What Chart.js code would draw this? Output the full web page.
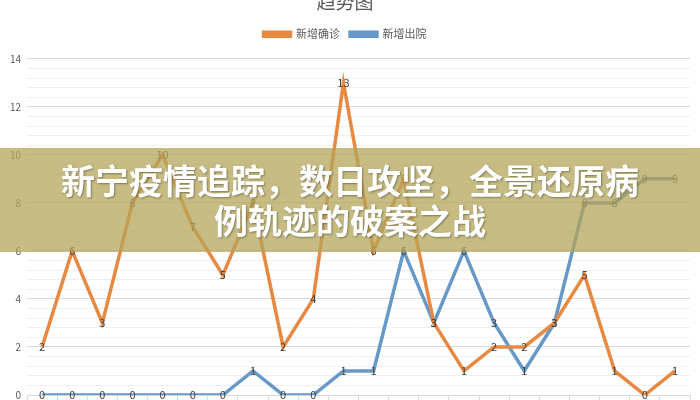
<!DOCTYPE html>
<html>
<head>
<meta charset="utf-8">
<script src="https://cdn.jsdelivr.net/npm/chart.js@4"></script>
<style>
  body { margin: 0; width: 700px; height: 400px; overflow: hidden; background: #fff; position: relative; }
  #wrap { position: absolute; left: 0; top: -20px; width: 700px; height: 440px; }
  #banner {
    position: absolute; left: 0; top: 148px; width: 700px; height: 104px;
    background: rgba(180, 165, 90, 0.75);
    color: #fff; font-family: "Noto Sans CJK SC", sans-serif; font-weight: bold;
    font-size: 34px; line-height: 40px; text-align: center;
    box-sizing: border-box; padding-top: 12px;
    text-shadow: 1px 1px 2px rgba(0,0,0,0.35);
  }
</style>
</head>
<body>
<div id="wrap"><canvas id="trend"></canvas></div>
<div id="banner">新宁疫情追踪，数日攻坚，全景还原病<br>例轨迹的破案之战</div>
<script>
const days = ['1', '2', '3', '4', '5', '6', '7', '8', '9', '10', '11',
              '12', '13', '14', '15', '16', '17', '18', '19', '20', '21', '22'];
const newConfirmed = [2, 6, 3, 8, 10, 7, 5, 8, 2, 4, 13, 6, 9, 3, 1, 2, 2, 3, 5, 1, 0, 1];
const newDischarged = [0, 0, 0, 0, 0, 0, 0, 1, 0, 0, 1, 1, 6, 3, 6, 3, 1, 3, 8, 8, 9, 9];

const fontFamily = '"Noto Sans CJK SC", sans-serif';

// draw the value on top of each point
const pointLabels = {
  id: 'pointLabels',
  afterDatasetsDraw(chart) {
    const ctx = chart.ctx;
    ctx.save();
    ctx.font = '11px ' + fontFamily;
    ctx.fillStyle = '#404040';
    ctx.textAlign = 'center';
    ctx.textBaseline = 'middle';
    chart.data.datasets.forEach((ds, i) => {
      chart.getDatasetMeta(i).data.forEach((pt, j) => {
        ctx.fillText(ds.data[j], pt.x, pt.y);
      });
    });
    ctx.restore();
  }
};

// a bit more room between legend and plot
const legendGap = {
  id: 'legendGap',
  beforeLayout(chart) {
    const lg = chart.legend;
    if (lg && !lg._gapPatched) {
      const fit = lg.fit;
      lg.fit = function () { fit.call(this); this.height += 9; };
      lg._gapPatched = true;
    }
  }
};

const isMajor = v => Math.abs(v / 2 - Math.round(v / 2)) < 1e-6;

new Chart(document.getElementById('trend'), {
  type: 'line',
  data: {
    labels: days,
    datasets: [{
      label: '新增确诊',
      data: newConfirmed,
      borderColor: 'rgb(232, 137, 66)',
      backgroundColor: 'rgb(232, 137, 66)',
      borderWidth: 3.5,
      pointRadius: 0,
      tension: 0
    }, {
      label: '新增出院',
      data: newDischarged,
      borderColor: 'rgb(102, 152, 200)',
      backgroundColor: 'rgb(102, 152, 200)',
      borderWidth: 3.5,
      pointRadius: 0,
      tension: 0
    }]
  },
  options: {
    responsive: true,
    maintainAspectRatio: false,
    animation: false,
    layout: { padding: { left: 0, right: 10, top: 0, bottom: 0 } },
    plugins: {
      title: {
        display: true,
        text: '趋势图',
        color: '#595959',
        font: { family: fontFamily, size: 19, weight: 'normal' },
        padding: { top: 10, bottom: 6 }
      },
      legend: {
        display: true,
        labels: {
          color: '#595959',
          font: { family: fontFamily, size: 11 },
          boxWidth: 27,
          boxHeight: 4,
          padding: 10
        }
      },
      tooltip: { enabled: false }
    },
    scales: {
      x: {
        offset: true,
        grid: { offset: true, drawOnChartArea: false, color: '#d9d9d9', tickLength: 8 },
        border: { color: '#d9d9d9' },
        ticks: { display: false },
        afterFit: s => { s.height = 25; }
      },
      y: {
        min: 0,
        max: 14,
        ticks: {
          stepSize: 0.4,
          autoSkip: false,
          color: '#595959',
          font: { family: fontFamily, size: 10 },
          padding: 6,
          callback: v => isMajor(v) ? Math.round(v) : ''
        },
        grid: {
          drawTicks: false,
          color: c => isMajor(c.tick.value) ? '#d9d9d9' : '#f0f0f0'
        },
        border: { display: false },
        afterFit: s => { s.width = 27; }
      }
    }
  },
  plugins: [pointLabels, legendGap]
});
</script>
</body>
</html>
